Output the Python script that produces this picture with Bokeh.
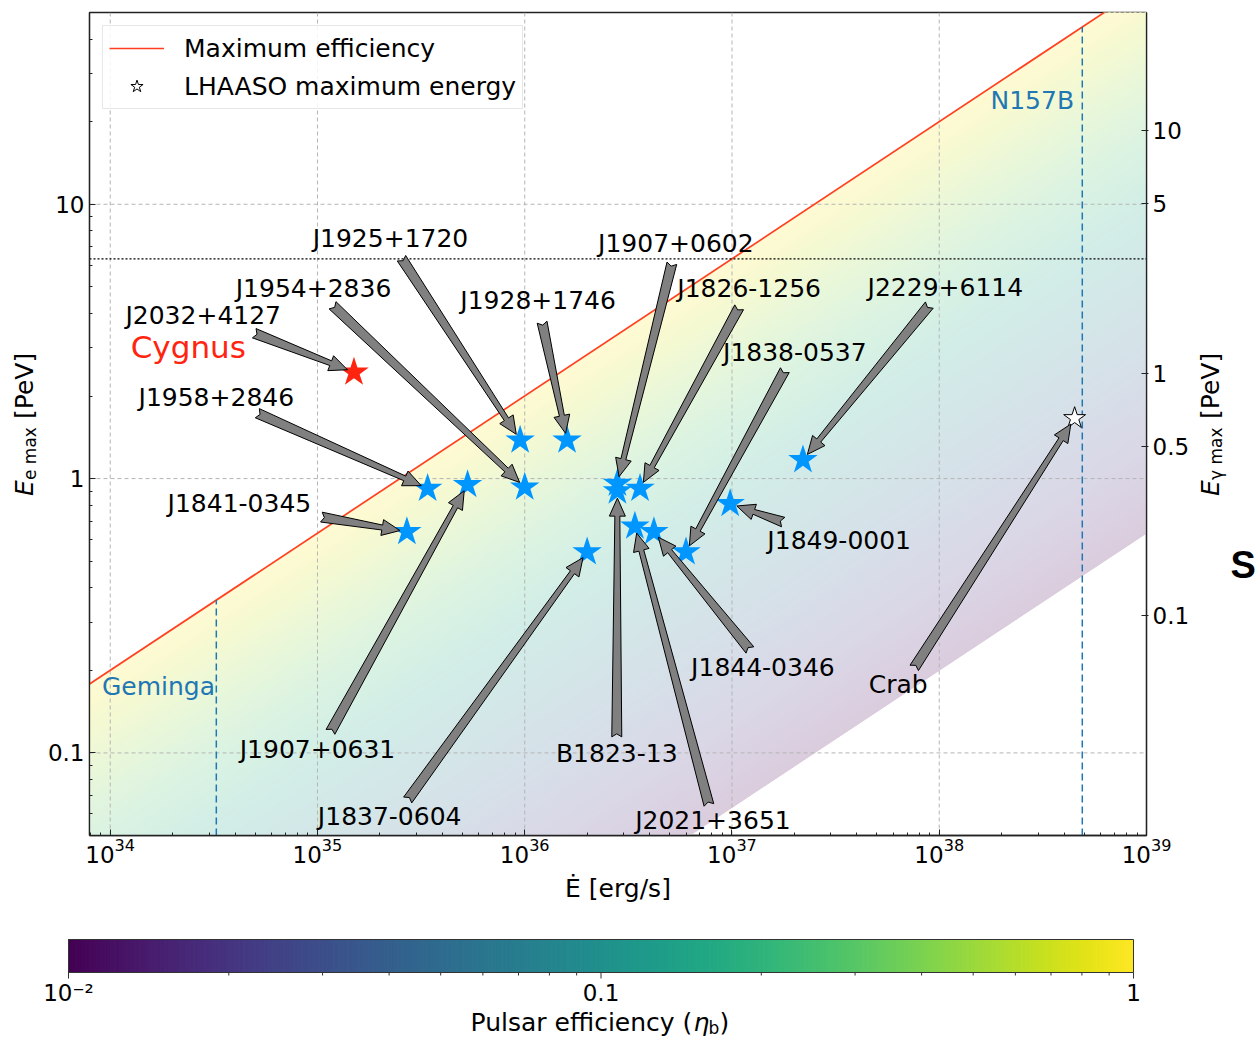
import numpy as np
from bokeh.plotting import figure
from bokeh.layouts import column, row
from bokeh.models import (Range1d, LogScale, LogAxis, FixedTicker, CustomJSTickFormatter,
                          LogTickFormatter, Label, Legend, LegendItem, ColumnDataSource)
from bokeh.core.properties import value
from bokeh.palettes import Viridis256
from bokeh.embed import file_html
from bokeh.resources import INLINE

# ---------------- data ----------------
pulsar_names = ["J1958+2846", "J1907+0631", "J1841-0345", "J1925+1720", "J1928+1746",
                "J1954+2836", "J1837-0604", "J1907+0602", "B1823-13", "J1826-1256",
                "J2021+3651", "J1844-0346", "J1838-0537", "J1849-0001", "J2229+6114"]
pulsar_edot = [3.4e35, 5.3e35, 2.7e35, 9.5e35, 1.6e36,
               1.0e36, 2.0e36, 2.8e36, 2.8e36, 3.6e36,
               3.4e36, 4.2e36, 6.0e36, 9.8e36, 2.2e37]
pulsar_ee = [0.92, 0.95, 0.64, 1.38, 1.38,
             0.93, 0.54, 0.96, 0.90, 0.92,
             0.67, 0.64, 0.54, 0.81, 1.17]

cygnus_edot = [1.5e35]
cygnus_ee = [2.44]
crab_edot = [4.5e38]
crab_ee = [1.66]

geminga_edot = 3.25e34
n157b_edot = 4.9e38

x_ticks = [1e34, 1e35, 1e36, 1e37, 1e38, 1e39]
y_ticks = [0.1, 1, 10]
y_right_ticks = [0.1, 0.5, 1, 5, 10]
cbar_ticks = [0.01, 0.1, 1]
cbar_tick_labels = ["10\u207b\u00b2", "0.1", "1"]

# annotation: text, text position (Edot, Ee), arrow tail offset from text centre (px), target
annotations = [
    ("J1925+1720", 2.25e35, 7.52, 11, -20, "J1925+1720"),
    ("J1954+2836", 9.57e34, 4.94, 19, -17, "J1954+2836"),
    ("J2032+4127", 2.81e34, 3.94, 51, -18, "Cygnus"),
    ("J1958+2846", 3.25e34, 1.98, 41, -16, "J1958+2846"),
    ("J1928+1746", 1.16e36, 4.47, 4, -22, "J1928+1746"),
    ("J1907+0602", 5.36e36, 7.21, -4, -20, "J1907+0602"),
    ("J1826-1256", 1.21e37, 4.94, -10, -19, "J1826-1256"),
    ("J1838-0537", 2.01e37, 2.89, -10, -18, "J1838-0537"),
    ("J2229+6114", 1.07e38, 4.99, -16, -18, "J2229+6114"),
    ("J1849-0001", 3.29e37, 0.597, -56, 18, "J1849-0001"),
    ("J1844-0346", 1.41e37, 0.204, -13, 18, "J1844-0346"),
    ("Crab", 6.34e37, 0.177, 16, 17, "Crab"),
    ("B1823-13", 2.78e36, 0.0992, 0, 17, "B1823-13"),
    ("J2021+3651", 8.09e36, 0.0565, -4, 16, "J2021+3651"),
    ("J1907+0631", 1.0e35, 0.1026, 13, 18, "J1907+0631"),
    ("J1837-0604", 2.23e35, 0.0584, 18, 17, "J1837-0604"),
    ("J1841-0345", 4.2e34, 0.814, 82, -14, "J1841-0345"),
]

# ---------------- physics helpers ----------------
def e_max(edot, eta=1.0):
    """Maximum electron energy [PeV] for spin-down power edot and efficiency eta."""
    return 2.0 * np.sqrt(eta * np.asarray(edot, dtype=float) / 1e36)

def e_gamma(ee):
    """Gamma-ray energy [PeV] from electron energy [PeV] (IC, KN regime)."""
    return 0.368 * np.asarray(ee, dtype=float) ** 1.13

# ---------------- layout ----------------
X_LO, X_HI = 10 ** 33.9, 1e39
Y_LO, Y_HI = 0.05, 50.0
FRAME_W, FRAME_H = 1057, 823
BORDER_TOP, BORDER_BOTTOM = 12, 70
LX0, LX1 = np.log10(X_LO), np.log10(X_HI)
LY0, LY1 = np.log10(Y_LO), np.log10(Y_HI)
SX = FRAME_W / (LX1 - LX0)
SY = FRAME_H / (LY1 - LY0)

def to_px(x, y):
    return (np.log10(x) - LX0) * SX, (np.log10(y) - LY0) * SY

def from_px(px, py):
    return 10 ** (np.asarray(px) / SX + LX0), 10 ** (np.asarray(py) / SY + LY0)

FONT = "DejaVu Sans"
BLUE_C0 = "#1f77b4"
INK = "#222222"

y_range = Range1d(Y_LO, Y_HI)
p = figure(x_axis_type="log", y_axis_type="log",
           x_range=Range1d(X_LO, X_HI), y_range=y_range,
           frame_width=FRAME_W, frame_height=FRAME_H,
           min_border_left=45, min_border_right=44,
           min_border_top=BORDER_TOP, min_border_bottom=BORDER_BOTTOM,
           output_backend="svg", toolbar_location=None)
p.grid.visible = False
p.outline_line_color = INK
p.outline_line_width = 1.3
p.background_fill_color = "white"
p.border_fill_color = "white"

p.extra_y_ranges = {"eg": Range1d(float(e_gamma(Y_LO)), float(e_gamma(Y_HI)))}
p.extra_y_scales = {"eg": LogScale()}

# ---- efficiency gradient between eta = 1e-4 and eta = 1 ----
N_BANDS = 160
log_eta = np.linspace(-4.0, 0.0, N_BANDS + 1)
ALPHA = 0.2
band_xs, band_ys, band_col = [], [], []
for i in range(N_BANDS):
    e0, e1 = 10 ** log_eta[i], 10 ** log_eta[i + 1]
    band_xs.append([X_LO, X_HI, X_HI, X_LO])
    band_ys.append([float(e_max(X_LO, e0)), float(e_max(X_HI, e0)),
                    float(e_max(X_HI, e1)), float(e_max(X_LO, e1))])
    t = (0.5 * (log_eta[i] + log_eta[i + 1]) + 4.0) / 4.0
    hexc = Viridis256[min(255, int(t * 255.999))]
    r, g, b = (int(hexc[k:k + 2], 16) for k in (1, 3, 5))
    blend = [round(255 - ALPHA * (255 - c)) for c in (r, g, b)]
    band_col.append("#%02x%02x%02x" % tuple(blend))
p.patches(xs="xs", ys="ys", source=ColumnDataSource(dict(xs=band_xs, ys=band_ys, c=band_col)),
          fill_color="c", line_color="c", line_width=1)

# ---- grid drawn over the shading ----
grid_style = dict(line_color="#b5b5b5", line_dash="4 3", line_width=1)
gx = [t for t in x_ticks if X_LO < t < X_HI]
p.segment(x0=gx, y0=[Y_LO] * len(gx), x1=gx, y1=[Y_HI] * len(gx), **grid_style)
p.segment(x0=[X_LO] * len(y_ticks), y0=y_ticks, x1=[X_HI] * len(y_ticks), y1=y_ticks, **grid_style)

# ---- maximum efficiency line and reference levels ----
r_line = p.line([X_LO, X_HI], [float(e_max(X_LO)), float(e_max(X_HI))],
                line_color="#ff4020", line_width=1.7)
e_ref = float(e_max(1e37))
p.line([X_LO, X_HI], [e_ref, e_ref], line_color="black", line_dash="2 2", line_width=1.4)
for xv in (geminga_edot, n157b_edot):
    p.line([xv, xv], [Y_LO, float(e_max(xv))], line_color=BLUE_C0, line_dash="7 4", line_width=1.5)

# ---- sources ----
p.scatter(pulsar_edot, pulsar_ee, marker="star", size=31, fill_color="#0096ff", line_color=None)
p.scatter(cygnus_edot, cygnus_ee, marker="star", size=31, fill_color="#ff2410", line_color=None)
r_crab = p.scatter(crab_edot, crab_ee, marker="star", size=23, fill_color="white",
                   line_color="black", line_width=1)

# ---- annotation arrows ----
targets = dict(zip(pulsar_names, zip(pulsar_edot, pulsar_ee)))
targets["Cygnus"] = (cygnus_edot[0], cygnus_ee[0])
targets["Crab"] = (crab_edot[0], crab_ee[0])

def arrow_poly(tail, tip, w_tail=10.0, w_neck=5.0, w_head=16.0, l_head=18.0):
    T = np.array(tail, dtype=float)
    H = np.array(tip, dtype=float)
    d = H - T
    u = d / np.hypot(*d)
    n = np.array([-u[1], u[0]])
    B = H - u * l_head
    pts = [T + n * w_tail / 2, B + n * w_neck / 2, B + n * w_head / 2, H,
           B - n * w_head / 2, B - n * w_neck / 2, T - n * w_tail / 2, T + u * 3]
    return np.array(pts)

arr_xs, arr_ys = [], []
txt_x, txt_y, txt = [], [], []
for text, tx, ty, dx, dy, target in annotations:
    txt_x.append(tx)
    txt_y.append(ty)
    txt.append(text)
    cx, cy = to_px(tx, ty)
    tail = (cx + dx, cy + dy)
    sx, sy = to_px(*targets[target])
    v = np.array([tail[0] - sx, tail[1] - sy])
    v = v / np.hypot(*v)
    tip = (sx + 7 * v[0], sy + 7 * v[1])
    pts = arrow_poly(tail, tip)
    xd, yd = from_px(pts[:, 0], pts[:, 1])
    arr_xs.append(list(xd))
    arr_ys.append(list(yd))
p.patches(arr_xs, arr_ys, fill_color="#808080", line_color="black", line_width=1)

p.text(x="x", y="y", text="text", source=ColumnDataSource(dict(x=txt_x, y=txt_y, text=txt)),
       text_font=value(FONT), text_font_size=value("25px"), text_align="center",
       text_baseline="middle", text_color="black")
p.text(x=[2.38e34], y=[3.01], text=["Cygnus"], text_font=value(FONT),
       text_font_size=value("31px"), text_align="center", text_baseline="middle",
       text_color="#ff2410")
p.text(x=[1.71e34, 2.81e38], y=[0.174, 23.9], text=["Geminga", "N157B"], text_font=value(FONT),
       text_font_size=value("25px"), text_align="center", text_baseline="middle",
       text_color=BLUE_C0)

# ---- legend ----
legend = Legend(items=[LegendItem(label="Maximum efficiency", renderers=[r_line]),
                       LegendItem(label="LHAASO maximum energy", renderers=[r_crab])],
                location="top_left", margin=13, padding=6, spacing=6,
                glyph_width=55, glyph_height=32, label_standoff=20,
                label_text_font=FONT, label_text_font_size="25px", label_text_color="black",
                border_line_color="#d0d0d0", border_line_width=1,
                background_fill_color="white", background_fill_alpha=0.85)
p.add_layout(legend)

# ---- axes ----
plain_code = "return String(tick);"

def minor_between(lo, hi):
    out = []
    for e in range(int(np.floor(np.log10(lo))), int(np.ceil(np.log10(hi))) + 1):
        for m in range(2, 10):
            v = m * 10.0 ** e
            if lo <= v <= hi:
                out.append(v)
    return out

xa = p.xaxis[0]
xa.ticker = FixedTicker(ticks=x_ticks, minor_ticks=minor_between(X_LO, X_HI))
xa.formatter = LogTickFormatter()
xa.axis_label = "\u0116 [erg/s]"
xa.axis_label_text_font = FONT
xa.axis_label_text_font_size = "25px"
xa.axis_label_text_font_style = "normal"
xa.axis_label_text_color = "black"
xa.axis_label_standoff = 8
ya = p.yaxis[0]
ya.ticker = FixedTicker(ticks=y_ticks, minor_ticks=minor_between(Y_LO, Y_HI))
ya.formatter = CustomJSTickFormatter(code=plain_code)

ax_r = LogAxis(y_range_name="eg",
               ticker=FixedTicker(ticks=y_right_ticks, minor_ticks=[]),
               formatter=CustomJSTickFormatter(code=plain_code))
p.add_layout(ax_r, "right")

for ax in (xa, ya):
    ax.major_tick_in = 6
    ax.major_tick_out = 0
    ax.minor_tick_in = 3
    ax.minor_tick_out = 0
for ax in (xa, ya, ax_r):
    ax.axis_line_color = INK
    ax.axis_line_width = 1.3
    ax.major_tick_line_color = INK
    ax.minor_tick_line_color = INK
    ax.major_label_text_font = FONT
    ax.major_label_text_font_size = "23px"
    ax.major_label_text_color = "black"
ax_r.major_tick_in = 5
ax_r.major_tick_out = 2
xa.major_label_standoff = 2
ya.major_label_standoff = 5
ax_r.major_label_standoff = 4

# ---------------- side strips carrying the vertical axis titles ----------------
def strip(width):
    f = figure(y_axis_type="log", x_range=Range1d(0, width), y_range=y_range,
               frame_width=width, frame_height=FRAME_H,
               min_border_left=0, min_border_right=0,
               min_border_top=BORDER_TOP, min_border_bottom=BORDER_BOTTOM,
               x_axis_location=None, y_axis_location=None,
               output_backend="svg", toolbar_location=None)
    f.grid.visible = False
    f.outline_line_color = None
    f.background_fill_color = "white"
    f.border_fill_color = "white"
    return f

y_mid = 10 ** (0.5 * (LY0 + LY1))

def vertical_title(f, baseline_x, sub):
    parts = [("E", "25px", "italic", 0, -72), (sub, "17px", "normal", 5, -56),
             ("[PeV]", "25px", "normal", 0, 5)]
    for text, size, style, dx, dy in parts:
        f.add_layout(Label(x=baseline_x, y=y_mid, x_offset=dx, y_offset=dy, text=text,
                           angle=np.pi / 2, text_align="left", text_baseline="alphabetic",
                           text_font=FONT, text_font_size=size, text_font_style=style,
                           text_color="black"))

left = strip(44)
vertical_title(left, 24, "e max")

right = strip(67)
vertical_title(right, 18, "\u03b3 max")
# letter of the neighbouring panel
right.add_layout(Label(x=38, y=0.484, text="S", text_align="left", text_baseline="middle",
                       text_font="Liberation Sans", text_font_size="38px",
                       text_font_style="bold", text_color="black"))

# ---------------- colour bar ----------------
CB_LO, CB_HI = 0.01, 1.0
CB_W, CB_H = 1257, 134
CB_LEFT, CB_RIGHT = 68, 1133          # bar extent across the strip
CB_PX = (CB_RIGHT - CB_LEFT) / (np.log10(CB_HI) - np.log10(CB_LO))
BAR_B, BAR_T = 67, 100
cb = figure(x_axis_type="log",
            x_range=Range1d(CB_LO * 10 ** (-CB_LEFT / CB_PX), CB_HI * 10 ** ((CB_W - CB_RIGHT) / CB_PX)),
            y_range=Range1d(0, CB_H),
            frame_width=CB_W, frame_height=CB_H,
            min_border_left=0, min_border_right=0, min_border_top=0, min_border_bottom=0,
            x_axis_location=None, y_axis_location=None,
            output_backend="svg", toolbar_location=None)
cb.grid.visible = False
cb.outline_line_color = None
cb.background_fill_color = "white"
cb.border_fill_color = "white"

n_c = len(Viridis256)
edges = 10 ** np.linspace(np.log10(CB_LO), np.log10(CB_HI), n_c + 1)
cb.quad(left=edges[:-1], right=edges[1:], bottom=BAR_B, top=BAR_T,
        fill_color=list(Viridis256), line_color=list(Viridis256), line_width=1)
cb.quad(left=[CB_LO], right=[CB_HI], bottom=[BAR_B], top=[BAR_T],
        fill_color=None, line_color="#333333", line_width=1)
minors = minor_between(CB_LO, CB_HI)
cb.segment(x0=cbar_ticks, y0=[BAR_B] * 3, x1=cbar_ticks, y1=[BAR_B - 6] * 3,
           line_color="#333333", line_width=1)
cb.segment(x0=minors, y0=[BAR_B] * len(minors), x1=minors, y1=[BAR_B - 3] * len(minors),
           line_color="#333333", line_width=1)
cb.text(x=cbar_ticks, y=[BAR_B - 20] * 3, text=cbar_tick_labels, text_font=value(FONT),
        text_font_size=value("23px"), text_align="center", text_baseline="middle",
        text_color="black")

cb_x0 = 0.0569
for text, size, style, dx, dy in [("Pulsar efficiency (", "25px", "normal", 0, 0),
                                  ("\u03b7", "25px", "italic", 223, 0),
                                  ("b", "17px", "normal", 238, -5),
                                  (")", "25px", "normal", 249, 0)]:
    cb.add_layout(Label(x=cb_x0, y=17, x_offset=dx, y_offset=dy, text=text,
                        text_align="left", text_baseline="alphabetic",
                        text_font=FONT, text_font_size=size, text_font_style=style,
                        text_color="black"))

layout = column(row(left, p, right, spacing=0), row(cb), spacing=0)
open("out.html", "w").write(file_html(layout, INLINE, title="Pulsar maximum energy"))
